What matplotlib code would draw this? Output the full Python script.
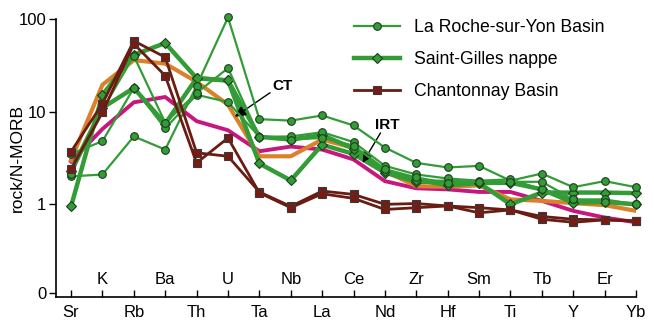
import numpy as np
import matplotlib
matplotlib.use("Agg")
import matplotlib.pyplot as plt

plt.rcParams["font.family"] = ["Liberation Sans", "DejaVu Sans"]

elements = ["Sr", "K", "Rb", "Ba", "Th", "U", "Ta", "Nb", "La", "Ce",
            "Nd", "Zr", "Hf", "Sm", "Ti", "Tb", "Y", "Er", "Yb"]

# La Roche-sur-Yon Basin (thin green, circles)
roche_1 = [2.0, 2.1, 5.4, 3.9, 19, 104, 8.3, 8.0, 9.1, 7.1,
           4.1, 2.8, 2.5, 2.6, 1.8, 2.15, 1.53, 1.78, 1.53]
roche_2 = [3.5, 4.8, 18, 6.6, 15.2, 12.7, 5.35, 5.4, 6.0, 4.7,
           2.6, 2.1, 1.9, 1.8, 1.86, 1.45, 1.13, 1.13, 1.0]
roche_3 = [2.1, 10.5, 40, 7.6, 15.9, 29.5, 5.35, 5.0, 5.2, 4.3,
           2.4, 1.95, 1.7, 1.75, 1.75, 1.75, 1.13, 1.06, 1.0]

# Saint-Gilles nappe (thick green, diamonds)
gilles_1 = [0.95, 15.2, 41, 55, 23, 21.7, 2.76, 1.81, 4.4, 3.5,
            2.2, 1.75, 1.75, 1.7, 1.0, 1.34, 1.34, 1.34, 1.32]
gilles_2 = [2.3, 11, 18, 7.4, 23, 21.7, 5.35, 5.0, 5.6, 4.0,
            2.3, 1.85, 1.6, 1.7, 1.71, 1.45, 1.04, 1.06, 1.0]

# Chantonnay Basin (brown, squares)
chant_1 = [3.7, 12.2, 58, 38.7, 3.6, 3.3, 1.36, 0.95, 1.39, 1.28,
           1.0, 1.02, 0.96, 0.92, 0.87, 0.74, 0.69, 0.68, 0.66]
chant_2 = [2.4, 9.8, 54, 24.4, 2.8, 5.2, 1.33, 0.92, 1.30, 1.16,
           0.88, 0.92, 0.96, 0.81, 0.87, 0.69, 0.64, 0.68, 0.66]

# reference patterns
ct_ref = [3.0, 19.5, 36, 33, 21, 11.9, 3.3, 3.3, 5.0, 4.06,
          2.28, 1.57, 1.55, 1.6, 1.13, 1.09, 1.03, 0.98, 0.85]
irt_ref = [2.9, 6.5, 12.6, 14.4, 7.9, 6.3, 3.74, 4.2, 3.9, 3.05,
           1.78, 1.49, 1.45, 1.36, 1.36, 1.09, 0.85, 0.72, 0.64]

GREEN = "#339c37"
GEDGE = "#1d3d1d"
BROWN = "#6a1c12"
ORANGE = "#d9822b"
MAGENTA = "#c8167f"

x = np.arange(len(elements))

fig = plt.figure(figsize=(6.54, 3.23), dpi=100)
ax = fig.add_axes([0.0856, 0.0805, 0.8869, 0.8607])

ax.plot(x, irt_ref, color=MAGENTA, lw=2.8, zorder=2)
ax.plot(x, ct_ref, color=ORANGE, lw=3.0, zorder=2)

handles = {}
for vals in (gilles_1, gilles_2):
    h, = ax.plot(x, vals, color=GREEN, lw=3.2, marker="D", ms=5.5,
                 mfc=GREEN, mec=GEDGE, mew=0.8, clip_on=False, zorder=3)
    handles["Saint-Gilles nappe"] = h
for vals in (roche_1, roche_2, roche_3):
    h, = ax.plot(x, vals, color=GREEN, lw=1.6, marker="o", ms=5.5,
                 mfc=GREEN, mec=GEDGE, mew=0.8, clip_on=False, zorder=4)
    handles["La Roche-sur-Yon Basin"] = h
for vals in (chant_1, chant_2):
    h, = ax.plot(x, vals, color=BROWN, lw=2.0, marker="s", ms=5.5,
                 mfc="#7a1a12", mec="#3a3a3a", mew=0.8, clip_on=False, zorder=5)
    handles["Chantonnay Basin"] = h

ax.set_yscale("log")
ax.set_xlim(-0.48, 18.0)
ax.set_ylim(0.1, 100)
ax.set_yticks([0.11, 1, 10, 100])
ax.set_yticklabels(["0", "1", "10", "100"])
ax.yaxis.set_minor_locator(matplotlib.ticker.NullLocator())
ax.tick_params(axis="y", direction="out", length=5, width=1, labelsize=12, pad=2)
ax.set_ylabel("rock/N-MORB", fontsize=12.5)
ax.yaxis.set_label_coords(-0.053, 0.5)

ax.set_xticks(x)
ax.set_xticklabels([e if i % 2 == 0 else "" for i, e in enumerate(elements)])
ax.tick_params(axis="x", direction="in", length=5, width=1, labelsize=12, pad=6)
for i, e in enumerate(elements):
    if i % 2 == 1:
        ax.text(i, 0.064, e, transform=ax.get_xaxis_transform(),
                ha="center", va="center", fontsize=12)

for s in ("top", "right"):
    ax.spines[s].set_visible(False)
for s in ("left", "bottom"):
    ax.spines[s].set_linewidth(1.2)

# labels with arrows
ax.text(6.75, 19, "CT", fontsize=11, fontweight="bold", ha="center", va="center")
ax.annotate("", xy=(5.22, 8.8), xytext=(6.34, 16),
            arrowprops=dict(arrowstyle="-|>", color="k", lw=1,
                            mutation_scale=16, shrinkA=0, shrinkB=0))
ax.text(10.06, 7.2, "IRT", fontsize=11, fontweight="bold", ha="center", va="center")
ax.annotate("", xy=(9.29, 2.8), xytext=(9.86, 5.9),
            arrowprops=dict(arrowstyle="-|>", color="k", lw=1,
                            mutation_scale=16, shrinkA=0, shrinkB=0))

order = ["La Roche-sur-Yon Basin", "Saint-Gilles nappe", "Chantonnay Basin"]
fig.legend([handles[k] for k in order], order, loc="upper left",
           bbox_to_anchor=(0.528, 0.967), frameon=False, fontsize=12.7,
           handlelength=2.6, handletextpad=0.8, labelspacing=0.85,
           borderpad=0)

fig.savefig("out.png", dpi=100)
